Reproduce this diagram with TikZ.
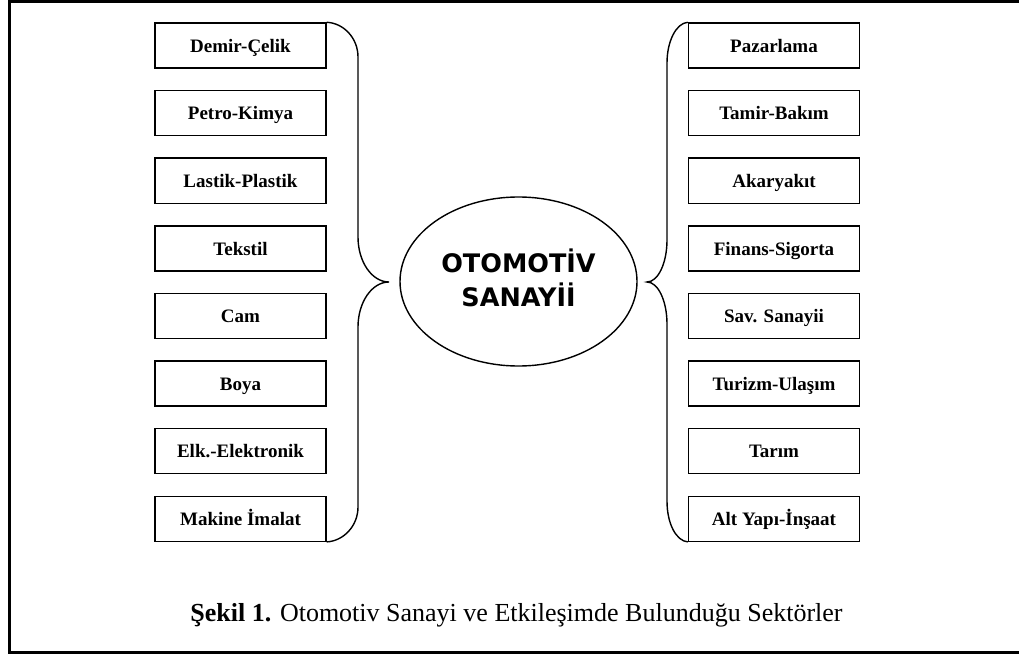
\documentclass[tikz,border=0pt]{standalone}
\usepackage{fontspec}
\usetikzlibrary{shapes.geometric}
\setmainfont{Liberation Serif}
\newfontfamily\heavysans{DejaVu Sans}
\begin{document}
\begin{tikzpicture}[x=1pt,y=-1pt,
  sector/.style={draw, line width=1.4pt, minimum width=171pt, minimum height=45pt, inner sep=0pt,
    text height=13.6pt, text depth=0pt, font=\fontsize{19}{22}\selectfont\bfseries},
  bracel/.style={draw, line width=1.4pt},
  hub/.style={draw, line width=1.4pt, ellipse, minimum width=237pt, minimum height=169pt, inner sep=0pt},
  hubtext/.style={align=center, inner sep=0pt, font=\heavysans\bfseries\fontsize{25.5}{34}\selectfont},
  frame/.style={line width=3pt}]
\useasboundingbox (0,0) rectangle (1019,655);
\draw[frame] (1025,1.5) -- (9.5,1.5) -- (9.5,652.5) -- (1025,652.5);

\foreach \t [count=\i] in {Demir-Çelik,Petro-Kimya,Lastik-Plastik,Tekstil,Cam,Boya,Elk.-Elektronik,Makine İmalat}
  \node[sector] (L\i) at (240.5,{45.5+67.6*(\i-1)}) {\t};
\foreach \t [count=\i] in {Pazarlama,Tamir-Bakım,Akaryakıt,Finans-Sigorta,Sav. Sanayii,Turizm-Ulaşım,Tarım,Alt Yapı-İnşaat}
  \node[sector] (R\i) at (774,{45.5+67.6*(\i-1)}) {\t};

\node[hub] (hub) at (518.5,281.5) {};
\node[hubtext] (hubt) at (518.5,278) {OTOMOTİV\\SANAYİİ};

\coordinate (ltip) at (389,282);
\coordinate (rtip) at (647,282);

\draw[bracel] (L1.north east) .. controls (343.7,23) and (358,38.2) .. (358,57)
  -- (358,237) .. controls (358,261.8) and (371.9,282) .. (ltip)
  .. controls (371.9,282) and (358,302.2) .. (358,327)
  -- (358,507) .. controls (358,525.8) and (343.7,541) .. (L8.south east);

\draw[bracel] (R1.north west) .. controls (676.4,23) and (667,40.9) .. (667,63)
  -- (667,240) .. controls (667,263.2) and (658,282) .. (rtip)
  .. controls (658,282) and (667,300.8) .. (667,324)
  -- (667,501) .. controls (667,524.1) and (676.4,541) .. (R8.south west);

\node[anchor=base, font=\fontsize{26}{30}\selectfont] (cap) at (516.5,621)
  {\textbf{Şekil 1.} Otomotiv Sanayi ve Etkileşimde Bulunduğu Sektörler};
\end{tikzpicture}
\end{document}
